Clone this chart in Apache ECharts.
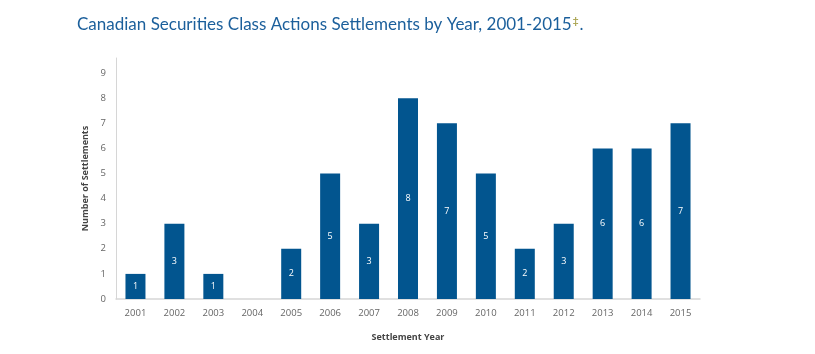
<!DOCTYPE html>
<html>
<head>
<meta charset="utf-8">
<script src="https://cdn.jsdelivr.net/npm/echarts@6/dist/echarts.min.js"></script>
<style>
  html, body { margin: 0; padding: 0; background: #fff; }
  #chart { width: 815px; height: 354px; }
</style>
</head>
<body>
<div id="chart"></div>
<script>
// settlement years and counts
var years = ['2001', '2002', '2003', '2004', '2005', '2006', '2007', '2008',
    '2009', '2010', '2011', '2012', '2013', '2014', '2015'];
var settlements = [1, 3, 1, 0, 2, 5, 3, 8, 7, 5, 2, 3, 6, 6, 7];

var myChart = echarts.init(document.getElementById('chart'));
var option = {
    animation: false,
    textStyle: { fontFamily: 'Open Sans' },
    title: {
        text: '{t|Canadian Securities Class Actions Settlements by Year, 2001-2015}{d|‡}{t|.}',
        left: 72,
        top: 11,
        textStyle: {
            rich: {
                t: { fontSize: 17, fontWeight: 'normal', color: '#1b5f9b', fontFamily: 'Lato' },
                d: { fontSize: 10, fontWeight: 'bold', color: '#a9a34e', fontFamily: 'Lato', verticalAlign: 'top', padding: [0, 1, 8, 1] }
            }
        }
    },
    grid: { left: 116, right: 115, top: 58, bottom: 55 },
    xAxis: {
        type: 'category',
        data: years,
        name: 'Settlement Year',
        nameLocation: 'middle',
        nameGap: 34,
        nameTextStyle: { fontSize: 9, fontWeight: 'bold', color: '#444' },
        axisLine: { lineStyle: { color: '#d6d6d6', width: 1.5 } },
        axisTick: { show: false },
        axisLabel: { color: '#666', fontSize: 9.5, margin: 9 }
    },
    yAxis: {
        type: 'value',
        min: 0,
        max: 9.6,
        interval: 1,
        name: 'Number of Settlements',
        nameLocation: 'middle',
        nameGap: 23,
        nameTextStyle: { fontSize: 9, fontWeight: 'bold', color: '#444' },
        axisLine: { show: true, lineStyle: { color: '#d6d6d6', width: 1 } },
        axisTick: { show: false },
        splitLine: { show: false },
        axisLabel: {
            color: '#666',
            fontSize: 9.5,
            margin: 10,
            formatter: function (v) {
                return v % 1 === 0 ? v : '';
            }
        }
    },
    series: [{
        type: 'bar',
        data: settlements,
        barWidth: 20,
        itemStyle: { color: '#02558f' },
        label: {
            show: true,
            position: 'inside',
            color: '#fff',
            fontSize: 9,
            formatter: function (p) {
                return p.value > 0 ? p.value : '';
            }
        }
    }]
};
myChart.setOption(option);
window.addEventListener('resize', function () {
    myChart.resize();
});
</script>
</body>
</html>
